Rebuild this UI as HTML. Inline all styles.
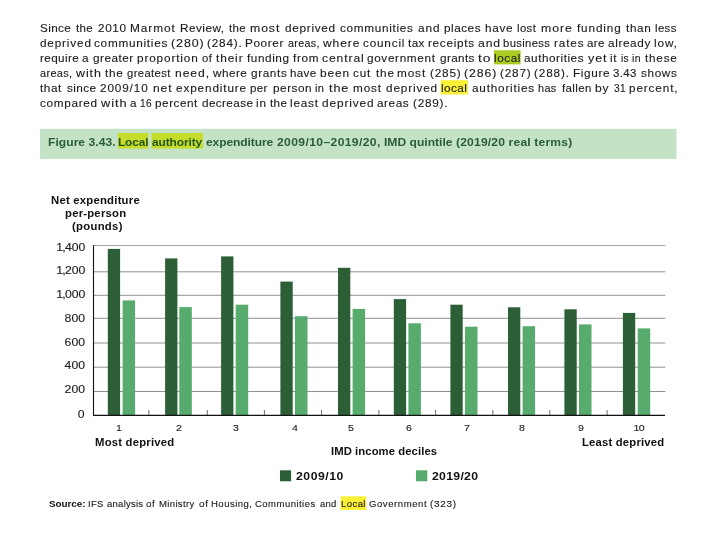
<!DOCTYPE html>
<html><head><meta charset="utf-8"><title>Figure 3.43</title>
<style>
html,body{margin:0;padding:0;background:#fff;}
body{width:720px;height:540px;position:relative;overflow:hidden;font-family:"Liberation Sans",sans-serif;color:#1c1c1c;-webkit-text-stroke:0.12px #1c1c1c;}
.ln{position:absolute;left:0;width:720px;height:15px;font-size:10.7px;line-height:15px;white-space:pre;}
.w{position:absolute;top:0;transform-origin:0 0;transform:scaleX(1.1);letter-spacing:0.6px;}
.b{font-weight:bold;color:#111;-webkit-text-stroke:0;}
.t{color:#2a5c37;}
.th{color:#22561c;}
.abs{position:absolute;white-space:pre;transform-origin:0 0;}
.n1{letter-spacing:-0.6px;}
svg{position:absolute;left:0;top:0;}
</style></head><body>

<svg width="720" height="540" viewBox="0 0 720 540">
<rect x="493.9" y="50.3" width="26.7" height="14.1" fill="#aacb22"/>
<rect x="440.8" y="80.2" width="27.0" height="14.3" fill="#faf135"/>
<rect x="40" y="128.8" width="636.5" height="30.2" fill="#c3e2c6"/>
<rect x="118" y="133" width="30.25" height="15.6" fill="#c5dc2a"/>
<rect x="151.5" y="133" width="51.5" height="15.6" fill="#c5dc2a"/>
<rect x="340.6" y="496.3" width="25.6" height="13.7" fill="#faf135"/>
<line x1="93.5" x2="665.3" y1="245.5" y2="245.5" stroke="#7d7d7d" stroke-width="0.7"/>
<line x1="93.5" x2="665.3" y1="271.8" y2="271.8" stroke="#7d7d7d" stroke-width="0.85"/>
<line x1="93.5" x2="665.3" y1="295.3" y2="295.3" stroke="#7d7d7d" stroke-width="0.85"/>
<line x1="93.5" x2="665.3" y1="318.3" y2="318.3" stroke="#7d7d7d" stroke-width="0.85"/>
<line x1="93.5" x2="665.3" y1="343" y2="343" stroke="#7d7d7d" stroke-width="0.85"/>
<line x1="93.5" x2="665.3" y1="367.2" y2="367.2" stroke="#7d7d7d" stroke-width="0.85"/>
<line x1="93.5" x2="665.3" y1="391.5" y2="391.5" stroke="#7d7d7d" stroke-width="0.85"/>
<rect x="107.8" y="248.9" width="12.3" height="166.5" fill="#2d5f37"/>
<rect x="122.6" y="300.4" width="12.5" height="115.0" fill="#56ab6d"/>
<rect x="165.1" y="258.4" width="12.3" height="157.0" fill="#2d5f37"/>
<rect x="179.3" y="307.1" width="12.5" height="108.3" fill="#56ab6d"/>
<rect x="221.1" y="256.4" width="12.3" height="159.0" fill="#2d5f37"/>
<rect x="235.7" y="304.7" width="12.5" height="110.7" fill="#56ab6d"/>
<rect x="280.4" y="281.6" width="12.3" height="133.8" fill="#2d5f37"/>
<rect x="295.0" y="316.2" width="12.5" height="99.2" fill="#56ab6d"/>
<rect x="338.0" y="267.8" width="12.3" height="147.6" fill="#2d5f37"/>
<rect x="352.6" y="308.9" width="12.5" height="106.5" fill="#56ab6d"/>
<rect x="393.8" y="299.1" width="12.3" height="116.3" fill="#2d5f37"/>
<rect x="408.4" y="323.3" width="12.5" height="92.1" fill="#56ab6d"/>
<rect x="450.4" y="304.7" width="12.3" height="110.7" fill="#2d5f37"/>
<rect x="465.0" y="326.7" width="12.5" height="88.7" fill="#56ab6d"/>
<rect x="508.0" y="307.3" width="12.3" height="108.1" fill="#2d5f37"/>
<rect x="522.6" y="326.2" width="12.5" height="89.2" fill="#56ab6d"/>
<rect x="564.4" y="309.3" width="12.3" height="106.1" fill="#2d5f37"/>
<rect x="579.0" y="324.4" width="12.5" height="91.0" fill="#56ab6d"/>
<rect x="622.9" y="312.9" width="12.3" height="102.5" fill="#2d5f37"/>
<rect x="637.7" y="328.4" width="12.5" height="87.0" fill="#56ab6d"/>
<line x1="148.9" x2="148.9" y1="410" y2="415.4" stroke="#444" stroke-width="0.8"/>
<line x1="207.3" x2="207.3" y1="410" y2="415.4" stroke="#444" stroke-width="0.8"/>
<line x1="264.4" x2="264.4" y1="410" y2="415.4" stroke="#444" stroke-width="0.8"/>
<line x1="321.6" x2="321.6" y1="410" y2="415.4" stroke="#444" stroke-width="0.8"/>
<line x1="378.9" x2="378.9" y1="410" y2="415.4" stroke="#444" stroke-width="0.8"/>
<line x1="435.6" x2="435.6" y1="410" y2="415.4" stroke="#444" stroke-width="0.8"/>
<line x1="492.9" x2="492.9" y1="410" y2="415.4" stroke="#444" stroke-width="0.8"/>
<line x1="549.8" x2="549.8" y1="410" y2="415.4" stroke="#444" stroke-width="0.8"/>
<line x1="607.1" x2="607.1" y1="410" y2="415.4" stroke="#444" stroke-width="0.8"/>
<line x1="93.5" x2="93.5" y1="245.2" y2="416.1" stroke="#111" stroke-width="1.1"/>
<line x1="93" x2="665" y1="415.4" y2="415.4" stroke="#111" stroke-width="1.4"/>
<rect x="280" y="470.3" width="11.1" height="11" fill="#2d5f37"/>
<rect x="416" y="470.3" width="11.3" height="11" fill="#56ab6d"/>
</svg>
<div class="ln" style="top:21.1px"><span class="w" style="left:39.9px;letter-spacing:0.35px;transform:scaleX(1.092)">Since </span><span class="w" style="left:76.0px;letter-spacing:0.35px;transform:scaleX(1.076)">the </span><span class="w" style="left:97.7px;letter-spacing:0.55px">2010 </span><span class="w" style="left:130.1px;letter-spacing:0.8px;transform:scaleX(1.112)">Marmot </span><span class="w" style="left:180.15px;letter-spacing:0.43px">Review, </span><span class="w" style="left:228.9px;letter-spacing:0.35px;transform:scaleX(1.076)">the </span><span class="w" style="left:250.35px;letter-spacing:0.8px;transform:scaleX(1.147)">most </span><span class="w" style="left:285.1px;letter-spacing:0.65px">deprived </span><span class="w" style="left:339.9px;letter-spacing:0.63px">communities </span><span class="w" style="left:417.7px;letter-spacing:0.8px;transform:scaleX(1.107)">and </span><span class="w" style="left:443.65px;letter-spacing:0.46px">places </span><span class="w" style="left:484.85px;letter-spacing:0.61px">have </span><span class="w" style="left:517.05px;letter-spacing:0.35px;transform:scaleX(1.066)">lost </span><span class="w" style="left:541.05px;letter-spacing:0.8px;transform:scaleX(1.148)">more </span><span class="w" style="left:577.1px;letter-spacing:0.78px">funding </span><span class="w" style="left:626.0px;letter-spacing:0.58px">than </span><span class="w" style="left:655.25px;letter-spacing:0.35px;transform:scaleX(1.063)">less</span></div>
<div class="ln" style="top:36.1px"><span class="w" style="left:39.9px;letter-spacing:0.76px">deprived </span><span class="w" style="left:94.4px;letter-spacing:0.67px">communities </span><span class="w" style="left:171.25px;letter-spacing:0.8px;transform:scaleX(1.161)">(280) </span><span class="w" style="left:207.05px;letter-spacing:0.74px">(284). </span><span class="w" style="left:244.85px;letter-spacing:0.55px">Poorer </span><span class="w" style="left:287.55px;letter-spacing:0.35px;transform:scaleX(1.001)">areas, </span><span class="w" style="left:322.5px;letter-spacing:0.8px;transform:scaleX(1.126)">where </span><span class="w" style="left:362.5px;letter-spacing:0.73px">council </span><span class="w" style="left:407.8px;letter-spacing:0.35px;transform:scaleX(1.099)">tax </span><span class="w" style="left:427.95px;letter-spacing:0.63px">receipts </span><span class="w" style="left:477.7px;letter-spacing:0.8px;transform:scaleX(1.137)">and </span><span class="w" style="left:503.05px;letter-spacing:0.35px;transform:scaleX(1.053)">business </span><span class="w" style="left:553.65px;letter-spacing:0.78px">rates </span><span class="w" style="left:587.0px;letter-spacing:0.35px;transform:scaleX(1.086)">are </span><span class="w" style="left:608.2px;letter-spacing:0.57px">already </span><span class="w" style="left:654.35px;letter-spacing:0.8px;transform:scaleX(1.097)">low,</span></div>
<div class="ln" style="top:51.1px"><span class="w" style="left:39.65px;letter-spacing:0.35px;transform:scaleX(1.097)">require </span><span class="w" style="left:82.2px;letter-spacing:0.6px">a </span><span class="w" style="left:93.3px;letter-spacing:0.45px">greater </span><span class="w" style="left:137.45px;letter-spacing:0.79px">proportion </span><span class="w" style="left:201.7px;letter-spacing:0.35px;transform:scaleX(1.054)">of </span><span class="w" style="left:216.2px;letter-spacing:0.8px;transform:scaleX(1.108)">their </span><span class="w" style="left:247.3px;letter-spacing:0.51px">funding </span><span class="w" style="left:293.3px;letter-spacing:0.6px">from </span><span class="w" style="left:322.2px;letter-spacing:0.8px;transform:scaleX(1.133)">central </span><span class="w" style="left:367.3px;letter-spacing:0.59px">government </span><span class="w" style="left:439.5px;letter-spacing:0.35px;transform:scaleX(1.093)">grants </span><span class="w" style="left:478.2px;letter-spacing:0.8px;transform:scaleX(1.281)">to </span><span class="w" style="left:494.05px;letter-spacing:0.5px">local </span><span class="w" style="left:523.9px;letter-spacing:0.48px">authorities </span><span class="w" style="left:587.8px;letter-spacing:0.8px;transform:scaleX(1.172)">yet </span><span class="w" style="left:610.35px;letter-spacing:0.55px">it </span><span class="w" style="left:621.1px;letter-spacing:0.35px;transform:scaleX(0.95)">is </span><span class="w" style="left:632.4px;letter-spacing:0.35px;transform:scaleX(0.979)">in </span><span class="w" style="left:644.9px;letter-spacing:0.7px">these</span></div>
<div class="ln" style="top:66.1px"><span class="w" style="left:39.9px;letter-spacing:0.35px;transform:scaleX(1.022)">areas, </span><span class="w" style="left:76.0px;letter-spacing:0.8px;transform:scaleX(1.165)">with </span><span class="w" style="left:105.3px;letter-spacing:0.71px">the </span><span class="w" style="left:127.3px;letter-spacing:0.35px;transform:scaleX(1.054)">greatest </span><span class="w" style="left:174.85px;letter-spacing:0.8px;transform:scaleX(1.139)">need, </span><span class="w" style="left:212.9px;letter-spacing:0.4px">where </span><span class="w" style="left:250.6px;letter-spacing:0.57px">grants </span><span class="w" style="left:290.35px;letter-spacing:0.35px;transform:scaleX(1.081)">have </span><span class="w" style="left:320.35px;letter-spacing:0.8px;transform:scaleX(1.11)">been </span><span class="w" style="left:353.3px;letter-spacing:0.77px">cut </span><span class="w" style="left:375.6px;letter-spacing:0.75px">the </span><span class="w" style="left:397.45px;letter-spacing:0.8px;transform:scaleX(1.102)">most </span><span class="w" style="left:429.95px;letter-spacing:0.74px">(285) </span><span class="w" style="left:464.15px;letter-spacing:0.8px;transform:scaleX(1.151)">(286) </span><span class="w" style="left:499.95px;letter-spacing:0.74px">(287) </span><span class="w" style="left:534.15px;letter-spacing:0.8px;transform:scaleX(1.099)">(288). </span><span class="w" style="left:572.55px;letter-spacing:0.6px">Figure </span><span class="w" style="left:613.3px;letter-spacing:0.35px;transform:scaleX(1.069)">3.43 </span><span class="w" style="left:640.85px;letter-spacing:0.56px">shows</span></div>
<div class="ln" style="top:81.1px"><span class="w" style="left:40.4px;letter-spacing:0.51px">that </span><span class="w" style="left:66.85px;letter-spacing:0.35px">since </span><span class="w" style="left:100.4px;letter-spacing:0.8px;transform:scaleX(1.097)">2009/10 </span><span class="w" style="left:152.55px;letter-spacing:0.8px;transform:scaleX(1.122)">net </span><span class="w" style="left:175.9px;letter-spacing:0.79px">expenditure </span><span class="w" style="left:250.35px;letter-spacing:0.35px;transform:scaleX(1.08)">per </span><span class="w" style="left:272.55px;letter-spacing:0.49px">person </span><span class="w" style="left:315.25px;letter-spacing:0.35px;transform:scaleX(1.039)">in </span><span class="w" style="left:329.3px;letter-spacing:0.8px;transform:scaleX(1.177)">the </span><span class="w" style="left:353.05px;letter-spacing:0.78px">most </span><span class="w" style="left:386.2px;letter-spacing:0.78px">deprived </span><span class="w" style="left:441.45px;letter-spacing:0.4px">local </span><span class="w" style="left:471.7px;letter-spacing:0.72px">authorities </span><span class="w" style="left:538.15px;letter-spacing:0.35px;transform:scaleX(1.014)">has </span><span class="w" style="left:561.7px;letter-spacing:0.35px;transform:scaleX(1.077)">fallen </span><span class="w" style="left:595.35px;letter-spacing:0.8px;transform:scaleX(1.126)">by </span><span class="w" style="left:614.15px;letter-spacing:0.35px;transform:scaleX(0.95)">31 </span><span class="w" style="left:628.75px;letter-spacing:0.79px">percent,</span></div>
<div class="ln" style="top:96.1px"><span class="w" style="left:39.9px;letter-spacing:0.63px">compared </span><span class="w" style="left:100.9px;letter-spacing:0.8px;transform:scaleX(1.191)">with </span><span class="w" style="left:129.9px;letter-spacing:0.6px">a </span><span class="w" style="left:140.35px;letter-spacing:0.35px;transform:scaleX(0.95)">16 </span><span class="w" style="left:155.25px;letter-spacing:0.48px">percent </span><span class="w" style="left:201.7px;letter-spacing:0.35px;transform:scaleX(1.098)">decrease </span><span class="w" style="left:255.95px;letter-spacing:0.8px;transform:scaleX(1.094)">in </span><span class="w" style="left:270.0px;letter-spacing:0.35px;transform:scaleX(1.084)">the </span><span class="w" style="left:290.35px;letter-spacing:0.73px">least </span><span class="w" style="left:322.4px;letter-spacing:0.8px;transform:scaleX(1.107)">deprived </span><span class="w" style="left:377.3px;letter-spacing:0.53px">areas </span><span class="w" style="left:412.55px;letter-spacing:0.7px">(289).</span></div>
<div class="abs b t" style="left:47.5px;top:135px;font-size:11px;line-height:14px;letter-spacing:0.021px;transform:scaleX(1.1);">Figure 3.43.</div>
<div class="abs b t th" style="left:118.15px;top:135px;font-size:11px;line-height:14px;letter-spacing:-0.1px;transform:scaleX(1.074);">Local</div>
<div class="abs b t th" style="left:151.95px;top:135px;font-size:11px;line-height:14px;letter-spacing:-0.1px;transform:scaleX(1.085);">authority</div>
<div class="abs b t" style="left:206.25px;top:135px;font-size:11px;line-height:14px;letter-spacing:-0.1px;transform:scaleX(1.096);">expenditure</div>
<div class="abs b t" style="left:277.0px;top:135px;font-size:11px;line-height:14px;letter-spacing:0.348px;transform:scaleX(1.1);">2009/10–2019/20,</div>
<div class="abs b t" style="left:384.45px;top:135px;font-size:11px;line-height:14px;letter-spacing:0.0px;transform:scaleX(1.1);">IMD quintile</div>
<div class="abs b t" style="left:456.1px;top:135px;font-size:11px;line-height:14px;letter-spacing:0.151px;transform:scaleX(1.1);">(2019/20 real terms)</div>
<div class="abs yl" style="right:635.2px;top:241.5px;font-size:10.2px;line-height:12px;transform-origin:100% 0;transform:scaleX(1.2);"><span class="n1">1,</span>400</div>
<div class="abs yl" style="right:635.2px;top:265.4px;font-size:10.2px;line-height:12px;transform-origin:100% 0;transform:scaleX(1.2);"><span class="n1">1,</span>200</div>
<div class="abs yl" style="right:635.2px;top:289.1px;font-size:10.2px;line-height:12px;transform-origin:100% 0;transform:scaleX(1.2);"><span class="n1">1,</span>000</div>
<div class="abs yl" style="right:635.2px;top:312.7px;font-size:10.2px;line-height:12px;transform-origin:100% 0;transform:scaleX(1.2);">800</div>
<div class="abs yl" style="right:635.2px;top:336.6px;font-size:10.2px;line-height:12px;transform-origin:100% 0;transform:scaleX(1.2);">600</div>
<div class="abs yl" style="right:635.2px;top:360.2px;font-size:10.2px;line-height:12px;transform-origin:100% 0;transform:scaleX(1.2);">400</div>
<div class="abs yl" style="right:635.2px;top:383.8px;font-size:10.2px;line-height:12px;transform-origin:100% 0;transform:scaleX(1.2);">200</div>
<div class="abs yl" style="right:635.2px;top:408.6px;font-size:10.2px;line-height:12px;transform-origin:100% 0;transform:scaleX(1.2);">0</div>
<div class="abs xl" style="left:99.3px;top:421.9px;width:40px;text-align:center;font-size:9.8px;line-height:12px;transform-origin:50% 0;transform:scaleX(1.08);">1</div>
<div class="abs xl" style="left:158.9px;top:421.9px;width:40px;text-align:center;font-size:9.8px;line-height:12px;transform-origin:50% 0;transform:scaleX(1.08);">2</div>
<div class="abs xl" style="left:215.6px;top:421.9px;width:40px;text-align:center;font-size:9.8px;line-height:12px;transform-origin:50% 0;transform:scaleX(1.08);">3</div>
<div class="abs xl" style="left:274.9px;top:421.9px;width:40px;text-align:center;font-size:9.8px;line-height:12px;transform-origin:50% 0;transform:scaleX(1.08);">4</div>
<div class="abs xl" style="left:330.7px;top:421.9px;width:40px;text-align:center;font-size:9.8px;line-height:12px;transform-origin:50% 0;transform:scaleX(1.08);">5</div>
<div class="abs xl" style="left:389.3px;top:421.9px;width:40px;text-align:center;font-size:9.8px;line-height:12px;transform-origin:50% 0;transform:scaleX(1.08);">6</div>
<div class="abs xl" style="left:447.3px;top:421.9px;width:40px;text-align:center;font-size:9.8px;line-height:12px;transform-origin:50% 0;transform:scaleX(1.08);">7</div>
<div class="abs xl" style="left:502.0px;top:421.9px;width:40px;text-align:center;font-size:9.8px;line-height:12px;transform-origin:50% 0;transform:scaleX(1.08);">8</div>
<div class="abs xl" style="left:560.7px;top:421.9px;width:40px;text-align:center;font-size:9.8px;line-height:12px;transform-origin:50% 0;transform:scaleX(1.08);">9</div>
<div class="abs xl" style="left:618.7px;top:421.9px;width:40px;text-align:center;font-size:9.8px;line-height:12px;transform-origin:50% 0;transform:scaleX(1.08);"><span class="n1">1</span>0</div>
<div class="abs b" style="left:51.05px;top:193.7px;font-size:10.1px;line-height:13px;letter-spacing:0.207px;transform:scaleX(1.12);">Net expenditure</div>
<div class="abs b" style="left:65.05px;top:206.9px;font-size:10.1px;line-height:13px;letter-spacing:0.198px;transform:scaleX(1.12);">per-person</div>
<div class="abs b" style="left:72.0px;top:220.1px;font-size:10.1px;line-height:13px;letter-spacing:0.261px;transform:scaleX(1.12);">(pounds)</div>
<div class="abs b" style="left:95.45px;top:436.4px;font-size:10.1px;line-height:13px;letter-spacing:0.19px;transform:scaleX(1.12);">Most deprived</div>
<div class="abs b" style="left:581.95px;top:436.4px;font-size:10.1px;line-height:13px;letter-spacing:0.165px;transform:scaleX(1.12);">Least deprived</div>
<div class="abs b" style="left:331.05px;top:444.9px;font-size:10.1px;line-height:13px;letter-spacing:0.058px;transform:scaleX(1.12);">IMD income deciles</div>
<div class="abs b" style="left:296.2px;top:469.3px;font-size:10.9px;line-height:14px;letter-spacing:0.476px;transform:scaleX(1.12);">2009/10</div>
<div class="abs b" style="left:431.7px;top:469.3px;font-size:10.9px;line-height:14px;letter-spacing:0.283px;transform:scaleX(1.12);">2019/20</div>
<div class="abs b" style="left:49.4px;top:498px;font-size:9px;line-height:12px;letter-spacing:-0.045px;transform:scaleX(1.1);">Source: </div>
<div class="abs s" style="left:88.05px;top:498px;font-size:9px;line-height:12px;letter-spacing:0.267px;transform:scaleX(1.06);">IFS </div>
<div class="abs s" style="left:106.95px;top:498px;font-size:9px;line-height:12px;letter-spacing:0.224px;transform:scaleX(1.06);">analysis </div>
<div class="abs s" style="left:146.25px;top:498px;font-size:9px;line-height:12px;letter-spacing:0.6px;transform:scaleX(1.085);">of </div>
<div class="abs s" style="left:158.65px;top:498px;font-size:9px;line-height:12px;letter-spacing:0.324px;transform:scaleX(1.06);">Ministry </div>
<div class="abs s" style="left:198.65px;top:498px;font-size:9px;line-height:12px;letter-spacing:0.6px;transform:scaleX(1.11);">of </div>
<div class="abs s" style="left:210.85px;top:498px;font-size:9px;line-height:12px;letter-spacing:0.442px;transform:scaleX(1.06);">Housing, </div>
<div class="abs s" style="left:255.1px;top:498px;font-size:9px;line-height:12px;letter-spacing:0.429px;transform:scaleX(1.06);">Communities </div>
<div class="abs s" style="left:319.75px;top:498px;font-size:9px;line-height:12px;letter-spacing:0.204px;transform:scaleX(1.06);">and </div>
<div class="abs s" style="left:341.05px;top:498px;font-size:9px;line-height:12px;letter-spacing:0.396px;transform:scaleX(1.06);">Local </div>
<div class="abs s" style="left:369.1px;top:498px;font-size:9px;line-height:12px;letter-spacing:0.533px;transform:scaleX(1.06);">Government </div>
<div class="abs s" style="left:430.2px;top:498px;font-size:9px;line-height:12px;letter-spacing:0.6px;transform:scaleX(1.111);">(323)</div>
</body></html>
